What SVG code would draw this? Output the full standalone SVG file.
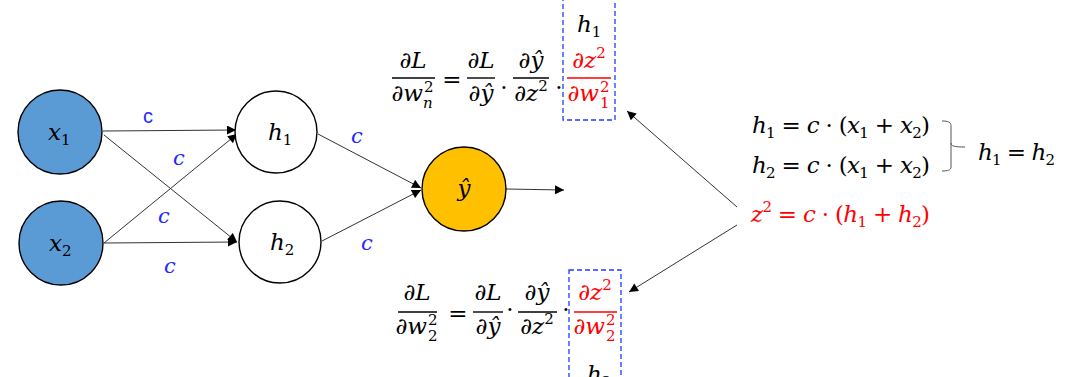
<svg xmlns="http://www.w3.org/2000/svg" width="1088" height="377" viewBox="0 0 1088 377">
<defs>
<style>
.m{font-family:'DejaVu Serif','Liberation Serif',serif;font-size:23px;fill:#000}
.i{font-style:italic}
.s{font-size:15px}
.r{fill:#ff0000}
.mid{text-anchor:middle}
.end{text-anchor:end}
.cl{font-family:'DejaVu Serif','Liberation Serif',serif;font-style:italic;font-size:21px;fill:#1f2bff;text-anchor:middle}
.cs{font-family:'Liberation Sans',Arial,sans-serif;font-size:20px;fill:#1f2bff;text-anchor:middle}
.node{stroke:#000;stroke-width:1.4}
.edge{stroke:#333;stroke-width:1;fill:none;marker-end:url(#ah)}
.fl{stroke:#000;stroke-width:1.4}
.flr{stroke:#ff0000;stroke-width:1.4}
.box{fill:none;stroke:#1f3dff;stroke-width:1.3;stroke-dasharray:5 3}
</style>
<marker id="ah" viewBox="0 0 10 10" refX="10" refY="5" markerWidth="10" markerHeight="9" markerUnits="userSpaceOnUse" orient="auto">
<path d="M0,0 L10,5 L0,10 z" fill="#000"/>
</marker>
</defs>
<rect width="1088" height="377" fill="#fff"/>

<g id="connectors">
<line class="edge" x1="103" y1="131" x2="236" y2="130"/>
<line class="edge" x1="104" y1="135" x2="237" y2="242"/>
<line class="edge" x1="104" y1="243" x2="237" y2="134"/>
<line class="edge" x1="104" y1="243" x2="237" y2="242"/>
<line class="edge" x1="318" y1="134" x2="421" y2="188"/>
<line class="edge" x1="322" y1="241" x2="421" y2="190"/>
<line class="edge" x1="506" y1="189" x2="564" y2="190"/>
<line class="edge" x1="737" y1="207" x2="627" y2="111"/>
<line class="edge" x1="737" y1="225" x2="629" y2="292"/>
<text class="cs" x="148" y="123">c</text>
<text class="cl" x="179" y="165">c</text>
<text class="cl" x="164" y="223">c</text>
<text class="cl" x="170" y="273">c</text>
<text class="cl" x="357" y="143">c</text>
<text class="cl" x="367" y="250">c</text>
</g>

<g id="x1">
<circle class="node" cx="60" cy="132" r="42" fill="#5b9bd5"/>
<text class="m" x="48" y="140"><tspan class="i">x</tspan><tspan class="s" dy="5">1</tspan></text>
</g>
<g id="x2">
<circle class="node" cx="61" cy="243" r="42" fill="#5b9bd5"/>
<text class="m" x="49" y="251"><tspan class="i">x</tspan><tspan class="s" dy="5">2</tspan></text>
</g>
<g id="h1">
<circle class="node" cx="276" cy="132" r="41" fill="#fff"/>
<text class="m" x="268" y="140"><tspan class="i">h</tspan><tspan class="s" dy="5">1</tspan></text>
</g>
<g id="h2">
<circle class="node" cx="280" cy="242" r="41" fill="#fff"/>
<text class="m" x="270" y="250"><tspan class="i">h</tspan><tspan class="s" dy="5">2</tspan></text>
</g>
<g id="yhat">
<circle class="node" cx="464" cy="189" r="42" fill="#ffc000"/>
<text class="m i mid" x="464" y="196">ŷ</text>
</g>

<g id="formula-top">
<text class="m mid" x="413" y="68"><tspan>∂</tspan><tspan class="i">L</tspan></text>
<line class="fl" x1="392" y1="78" x2="435" y2="78"/>
<text class="m end" x="423" y="101"><tspan>∂</tspan><tspan class="i">w</tspan></text>
<text class="m s" x="424" y="92">2</text>
<text class="m s i" x="423" y="108">n</text>
<text class="m mid" x="452" y="87">=</text>
<text class="m mid" x="481" y="68"><tspan>∂</tspan><tspan class="i">L</tspan></text>
<line class="fl" x1="467" y1="78" x2="495" y2="78"/>
<text class="m mid" x="481" y="101"><tspan>∂</tspan><tspan class="i">ŷ</tspan></text>
<text class="m mid" x="504" y="95">·</text>
<text class="m mid" x="531" y="68"><tspan>∂</tspan><tspan class="i">ŷ</tspan></text>
<line class="fl" x1="513" y1="78" x2="549" y2="78"/>
<text class="m mid" x="531" y="101"><tspan>∂</tspan><tspan class="i">z</tspan><tspan class="s" dy="-10">2</tspan></text>
<text class="m mid" x="559" y="95">·</text>
<text class="m mid r" x="589" y="68"><tspan>∂</tspan><tspan class="i">z</tspan><tspan class="s" dy="-10">2</tspan></text>
<line class="flr" x1="567" y1="78" x2="611" y2="78"/>
<text class="m end r" x="599" y="101"><tspan>∂</tspan><tspan class="i">w</tspan></text>
<text class="m s r" x="600" y="92">2</text>
<text class="m s r" x="600" y="108">1</text>
<text class="m" x="577" y="32"><tspan class="i">h</tspan><tspan class="s" dy="5">1</tspan></text>
<rect class="box" x="563" y="-1" width="52" height="121"/>
</g>

<g id="formula-bottom">
<text class="m mid" x="417" y="300"><tspan>∂</tspan><tspan class="i">L</tspan></text>
<line class="fl" x1="398" y1="312" x2="437" y2="312"/>
<text class="m end" x="427" y="334"><tspan>∂</tspan><tspan class="i">w</tspan></text>
<text class="m s" x="428" y="325">2</text>
<text class="m s" x="428" y="341">2</text>
<text class="m mid" x="458" y="321">=</text>
<text class="m mid" x="488" y="300"><tspan>∂</tspan><tspan class="i">L</tspan></text>
<line class="fl" x1="473" y1="312" x2="503" y2="312"/>
<text class="m mid" x="488" y="334"><tspan>∂</tspan><tspan class="i">ŷ</tspan></text>
<text class="m mid" x="510" y="317">·</text>
<text class="m mid" x="537" y="300"><tspan>∂</tspan><tspan class="i">ŷ</tspan></text>
<line class="fl" x1="518" y1="312" x2="557" y2="312"/>
<text class="m mid" x="537" y="334"><tspan>∂</tspan><tspan class="i">z</tspan><tspan class="s" dy="-10">2</tspan></text>
<text class="m mid" x="566" y="317">·</text>
<text class="m mid r" x="595" y="300"><tspan>∂</tspan><tspan class="i">z</tspan><tspan class="s" dy="-10">2</tspan></text>
<line class="flr" x1="574" y1="312" x2="617" y2="312"/>
<text class="m end r" x="605" y="334"><tspan>∂</tspan><tspan class="i">w</tspan></text>
<text class="m s r" x="606" y="325">2</text>
<text class="m s r" x="606" y="341">2</text>
<text class="m" x="587" y="382"><tspan class="i">h</tspan><tspan class="s" dy="5">2</tspan></text>
<rect class="box" x="569" y="270" width="52" height="110"/>
</g>

<g id="equations-right">
<text class="m" x="752" y="133" textLength="178"><tspan class="i">h</tspan><tspan class="s" dy="5">1</tspan><tspan dy="-5"> = </tspan><tspan class="i">c</tspan><tspan> · (</tspan><tspan class="i">x</tspan><tspan class="s" dy="5">1</tspan><tspan dy="-5"> + </tspan><tspan class="i">x</tspan><tspan class="s" dy="5">2</tspan><tspan dy="-5">)</tspan></text>
<text class="m" x="752" y="173" textLength="178"><tspan class="i">h</tspan><tspan class="s" dy="5">2</tspan><tspan dy="-5"> = </tspan><tspan class="i">c</tspan><tspan> · (</tspan><tspan class="i">x</tspan><tspan class="s" dy="5">1</tspan><tspan dy="-5"> + </tspan><tspan class="i">x</tspan><tspan class="s" dy="5">2</tspan><tspan dy="-5">)</tspan></text>
<path d="M942,121 C948,121 951,122 951,126 L951,143 C951,146 954,147 965,147 M951,143 L951,167 C951,170 948,171 942,171" fill="none" stroke="#555" stroke-width="1"/>
<text class="m" x="978" y="160" textLength="77"><tspan class="i">h</tspan><tspan class="s" dy="5">1</tspan><tspan dy="-5"> = </tspan><tspan class="i">h</tspan><tspan class="s" dy="5">2</tspan></text>
<text class="m r" x="751" y="222" textLength="179"><tspan class="i">z</tspan><tspan class="s" dy="-10">2</tspan><tspan dy="10"> = </tspan><tspan class="i">c</tspan><tspan> · (</tspan><tspan class="i">h</tspan><tspan class="s" dy="5">1</tspan><tspan dy="-5"> + </tspan><tspan class="i">h</tspan><tspan class="s" dy="5">2</tspan><tspan dy="-5">)</tspan></text>
</g>
</svg>
